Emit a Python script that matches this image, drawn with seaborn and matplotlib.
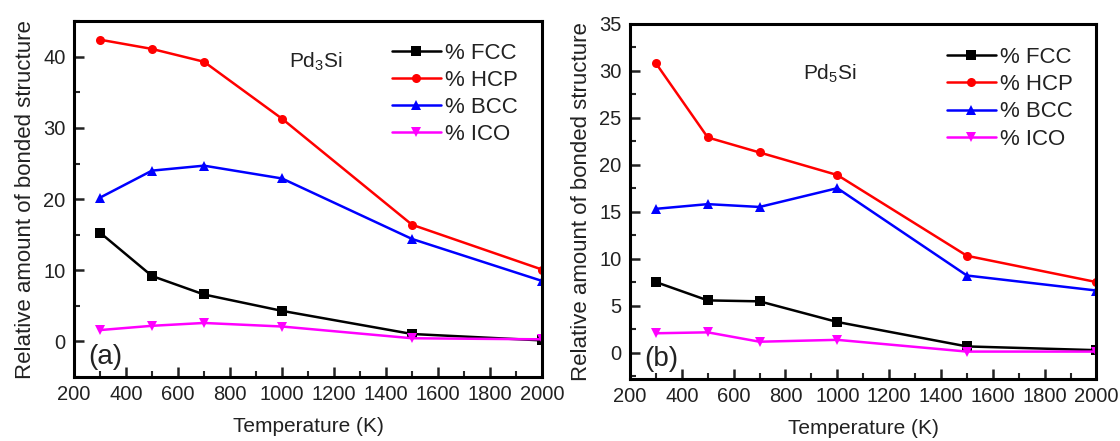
import numpy as np
import pandas as pd
import matplotlib
matplotlib.use("Agg")
import matplotlib.pyplot as plt
from matplotlib.ticker import MultipleLocator
import seaborn as sns

# ---------------- data ----------------
temperature = [300, 500, 700, 1000, 1500, 2000]
series_names = ["% FCC", "% HCP", "% BCC", "% ICO"]

pd3si_fcc = [15.3, 9.2, 6.6, 4.3, 1.05, 0.15]
pd3si_hcp = [42.4, 41.1, 39.3, 31.3, 16.4, 10.1]
pd3si_bcc = [20.2, 24.0, 24.7, 22.9, 14.4, 8.5]
pd3si_ico = [1.6, 2.2, 2.6, 2.1, 0.45, 0.3]

pd5si_fcc = [7.5, 5.55, 5.45, 3.25, 0.65, 0.25]
pd5si_hcp = [30.8, 22.9, 21.3, 18.9, 10.3, 7.5]
pd5si_bcc = [15.3, 15.8, 15.5, 17.5, 8.2, 6.6]
pd5si_ico = [2.05, 2.15, 1.15, 1.35, 0.1, 0.1]

colors = ["#000000", "#FF0000", "#0000FF", "#FF00FF"]
markers = ["s", "o", "^", "v"]

sns.set_theme(style="ticks")
plt.rcParams["font.family"] = ["Liberation Sans", "DejaVu Sans"]
plt.rcParams["mathtext.fontset"] = "custom"
plt.rcParams["mathtext.rm"] = "Liberation Sans"
plt.rcParams["mathtext.it"] = "Liberation Sans"

fig = plt.figure(figsize=(11.2, 4.41), dpi=100)
axL = fig.add_axes([0.066, 0.145, 0.418, 0.807])
axR = fig.add_axes([0.5625, 0.141, 0.4165, 0.805])


def draw(ax, values, title, tag, ylim, ymaj, ymin, title_xy, legend_anchor):
    for name, vals, c, m in zip(series_names, values, colors, markers):
        df = pd.DataFrame({"T": temperature, "v": vals})
        sns.lineplot(data=df, x="T", y="v", ax=ax, color=c, marker=m,
                     markersize=6.5, markeredgewidth=0, linewidth=1.8,
                     label=name)
    ax.set_xlim(200, 2000)
    ax.set_ylim(*ylim)
    ax.xaxis.set_major_locator(MultipleLocator(200))
    ax.xaxis.set_minor_locator(MultipleLocator(100))
    ax.yaxis.set_major_locator(MultipleLocator(ymaj))
    ax.yaxis.set_minor_locator(MultipleLocator(ymin))
    ax.tick_params(which="major", direction="in", length=7, width=1.8,
                   labelsize=14.5, colors="#222222", top=False, right=False,
                   pad=6)
    ax.tick_params(which="minor", direction="in", length=4, width=1.5,
                   top=False, right=False)
    for s in ax.spines.values():
        s.set_linewidth(2.2)
        s.set_color("black")
    ax.set_xlabel("Temperature (K)", fontsize=15, color="#222222", labelpad=9)
    ax.set_ylabel("Relative amount of bonded structure", fontsize=16,
                  color="#222222", labelpad=5)
    ax.text(title_xy[0], title_xy[1], title, transform=ax.transAxes,
            fontsize=15, color="#222222", ha="left", va="center")
    ax.text(0.03, 0.055, tag, transform=ax.transAxes, fontsize=20,
            color="#222222", ha="left", va="center")
    leg = ax.legend(loc="upper left", bbox_to_anchor=legend_anchor,
                    frameon=False, fontsize=16, handlelength=2.2,
                    handletextpad=0.2, labelspacing=0.28, borderaxespad=0)
    for t in leg.get_texts():
        t.set_color("#222222")


draw(axL, [pd3si_fcc, pd3si_hcp, pd3si_bcc, pd3si_ico], "Pd$_3$Si", "(a)",
     (-5, 45), 10, 5, (0.46, 0.885), (0.66, 0.965))
draw(axR, [pd5si_fcc, pd5si_hcp, pd5si_bcc, pd5si_ico], "Pd$_5$Si", "(b)",
     (-2.8, 35), 5, 2.5, (0.37, 0.86), (0.66, 0.96))

fig.savefig("out.png", dpi=100)
